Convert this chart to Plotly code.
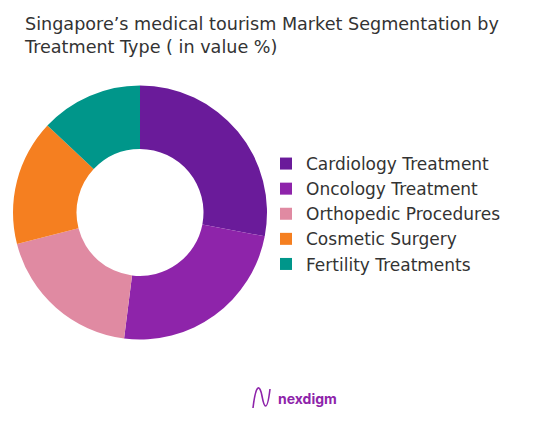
import plotly.graph_objects as go

W, H = 537, 421

categories = ["Cardiology Treatment", "Oncology Treatment", "Orthopedic Procedures",
              "Cosmetic Surgery", "Fertility Treatments"]
values = [28, 24, 19, 16, 13]
colors = ["#6a1b9a", "#8e24aa", "#e08aa2", "#f57f20", "#00968a"]

title_text = "Singapore’s medical tourism Market Segmentation by<br>Treatment Type ( in value %)"

# pie geometry in pixels
cx, cy, r = 140, 212.5, 127

fig = go.Figure(go.Pie(
    labels=categories,
    values=values,
    hole=0.5,
    sort=False,
    direction="clockwise",
    rotation=0,
    marker=dict(colors=colors, line=dict(width=0)),
    textinfo="none",
    hoverinfo="label+percent",
    domain=dict(x=[(cx - r) / W, (cx + r) / W],
                y=[(H - cy - r) / H, (H - cy + r) / H]),
))

fig.update_layout(
    width=W, height=H,
    margin=dict(l=0, r=0, t=0, b=0),
    paper_bgcolor="white",
    plot_bgcolor="white",
    font=dict(family="DejaVu Sans, sans-serif", color="#333333"),
    legend=dict(x=266 / W, y=1 - 146 / H, xanchor="left", yanchor="top",
                font=dict(size=17, color="#333333", family="DejaVu Sans, sans-serif"),
                tracegroupgap=0, itemwidth=30, bgcolor="rgba(0,0,0,0)"),
    showlegend=True,
)

# title as annotation for exact placement
fig.add_annotation(text=title_text, x=22 / W, y=1 - 12 / H, xref="paper", yref="paper",
                   xanchor="left", yanchor="top", align="left", showarrow=False,
                   font=dict(size=17.6, color="#333333", family="DejaVu Sans, sans-serif"))

# brand logo (text + small wave icon)
fig.add_annotation(text="<b>nexdigm</b>", x=276 / W, y=1 - 398 / H, xref="paper", yref="paper",
                   xanchor="left", yanchor="middle", showarrow=False,
                   font=dict(size=14, color="#8e24aa", family="Inter, sans-serif"))
fig.add_shape(type="path", xref="paper", yref="paper",
              path=f"M {253/W},{1-408/H} C {256/W},{1-382/H} {260/W},{1-385/H} {262/W},{1-396/H} "
                   f"S {267/W},{1-414/H} {270/W},{1-389/H}",
              line=dict(color="#8e24aa", width=1.6))

fig.write_html("out.html", config={"displayModeBar": False},
               post_script="document.body.style.margin='0';document.body.style.padding='0';")
